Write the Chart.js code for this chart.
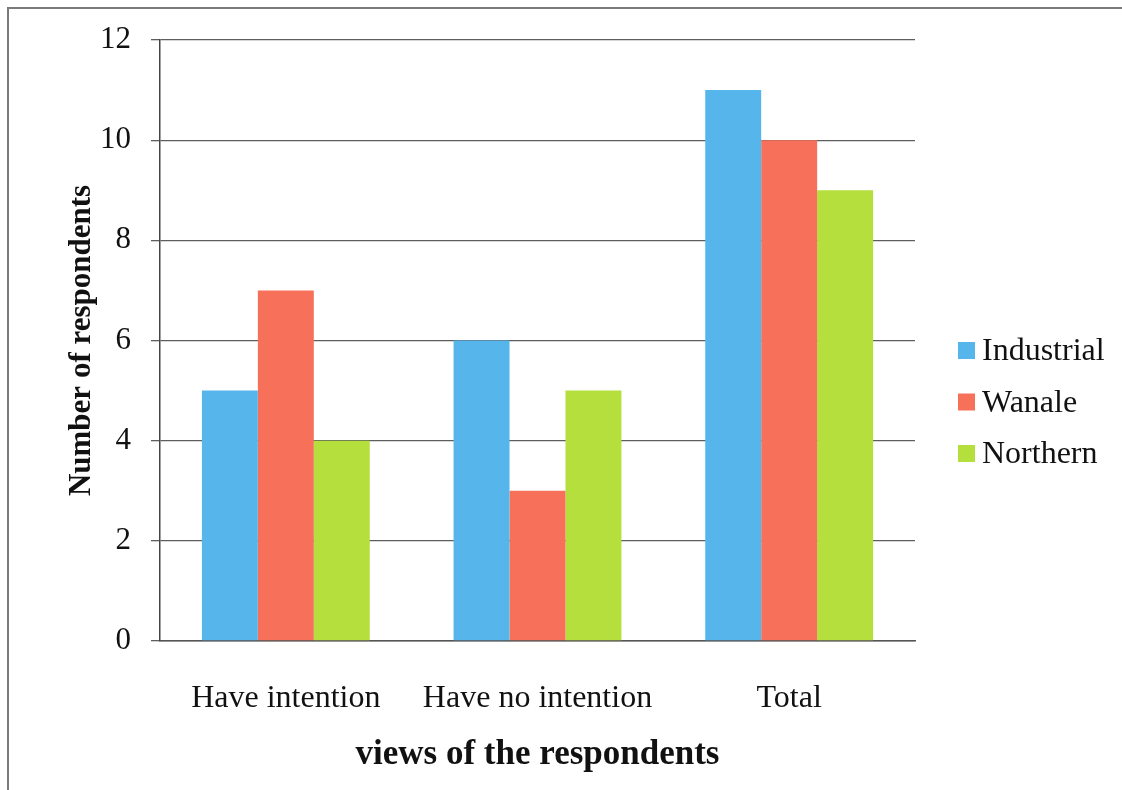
<!DOCTYPE html>
<html>
<head>
<meta charset="utf-8">
<script src="https://cdn.jsdelivr.net/npm/chart.js@4"></script>
<style>
  html, body { margin: 0; padding: 0; background: #ffffff; }
  #wrap { position: relative; width: 1122px; height: 790px; overflow: hidden; }
  #frame { position: absolute; left: 7px; top: 7px; width: 1200px; height: 900px;
           border-top: 2px solid #7a7a7a; border-left: 2px solid #7a7a7a; }
  canvas { position: absolute; left: 0; top: 0; }
</style>
</head>
<body>
<div id="wrap">
  <div id="frame"></div>
  <canvas id="chart" width="1122" height="790"></canvas>
</div>
<script>
// Respondents' views by area
const categories = ['Have intention', 'Have no intention', 'Total'];
const seriesNames = ['Industrial', 'Wanale', 'Northern'];
const industrial = [5, 6, 11];
const wanale = [7, 3, 10];
const northern = [4, 5, 9];
const yTicks = [0, 2, 4, 6, 8, 10, 12];

const colors = ['#56b6ec', '#f7705a', '#b4df3c'];
const serif = '"Liberation Serif", "Times New Roman", serif';

// Legend drawn at the right of the plot, one square and name per series
const sideLegend = {
  id: 'sideLegend',
  afterDraw(chart) {
    const ctx = chart.ctx;
    ctx.save();
    ctx.font = '32px ' + serif;
    ctx.textBaseline = 'middle';
    ctx.textAlign = 'left';
    chart.data.datasets.forEach((ds, i) => {
      const cy = 350 + i * 51.5;
      ctx.fillStyle = ds.backgroundColor;
      ctx.fillRect(958, cy - 8, 17, 17);
      ctx.fillStyle = '#111';
      ctx.fillText(ds.label, 982, cy + 2);
    });
    ctx.restore();
  }
};

new Chart(document.getElementById('chart'), {
  type: 'bar',
  data: {
    labels: categories,
    datasets: [
      { label: seriesNames[0], data: industrial, backgroundColor: colors[0] },
      { label: seriesNames[1], data: wanale, backgroundColor: colors[1] },
      { label: seriesNames[2], data: northern, backgroundColor: colors[2] }
    ]
  },
  options: {
    responsive: false,
    animation: false,
    events: [],
    layout: { padding: { left: 0, right: 207, top: 40, bottom: 0 } },
    datasets: { bar: { categoryPercentage: 0.667, barPercentage: 1.0, borderWidth: 0 } },
    plugins: { legend: { display: false }, tooltip: { enabled: false } },
    scales: {
      x: {
        grid: { display: false },
        border: { display: true, color: '#555', width: 1.5 },
        ticks: { color: '#111', font: { family: serif, size: 32 }, padding: 30 },
        title: {
          display: true, text: 'views of the respondents', color: '#111',
          font: { family: serif, size: 35, weight: 'bold' },
          padding: { top: 6, bottom: 14 }
        },
        afterFit(scale) { scale.height = 790 - 641; }
      },
      y: {
        min: 0, max: 12,
        afterBuildTicks(scale) { scale.ticks = yTicks.map(v => ({ value: v })); },
        grid: { color: '#5e5e5e', lineWidth: 1.3, tickLength: 9, drawTicks: true },
        border: { display: true, color: '#444', width: 1.5 },
        ticks: { color: '#111', font: { family: serif, size: 31 }, padding: 20 },
        title: {
          display: true, text: 'Number of respondents', color: '#111',
          font: { family: serif, size: 31, weight: 'bold' },
          padding: { top: 63, bottom: 0 }
        },
        afterFit(scale) { scale.width = 160; }
      }
    }
  },
  plugins: [sideLegend]
});
</script>
</body>
</html>
